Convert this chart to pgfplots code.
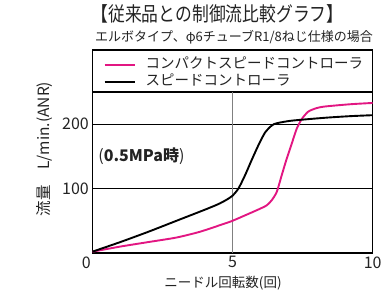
\documentclass[border=0pt]{standalone}
\usepackage{fontspec}
\setmainfont{Noto Sans CJK JP}
\usepackage{pgfplots}
\pgfplotsset{compat=1.18}
\definecolor{mag}{RGB}{226,22,130}
\definecolor{txt}{RGB}{35,35,35}
\pgfplotstableread{
x y
0 2
1 17
2 33
3 50
4 67
4.5 76
4.8 83
5.0 89
5.21 100
5.45 121
5.68 144
5.92 167
6.16 187
6.40 198
6.58 201.5
7.11 205.5
8.3 210
9.2 212.5
10 214
}\speed
\pgfplotstableread{
x y
0 2
1 10
2 17
3 24
3.84 33
4.74 46
5.0 50
5.45 58.5
5.92 67.5
6.22 74
6.40 82
6.58 95
6.75 120
6.93 146
7.11 169.5
7.29 193
7.47 208
7.70 219.5
8.0 225
8.3 227.5
9.2 231
10 233
}\compact
\begin{document}
\begin{tikzpicture}
\path[use as bounding box] (0,0) rectangle (382pt,303pt);
\begin{axis}[
  at={(92.3pt,50pt)}, anchor=south west,
  scale only axis, width=280.4pt, height=161pt,
  xmin=0, xmax=10, ymin=0, ymax=250,
  xtick={5,10}, ytick={100,200},
  extra x ticks={0},
  extra x tick style={xticklabel style={xshift=-6pt}},
  ymajorgrids, grid style={black, line width=1.1pt},
  major tick length=0pt,
  axis line style={line width=1.2pt},
  tick label style={font=\fontsize{16}{16}\selectfont, text=txt},
  /pgf/number format/assume math mode=true,
  legend style={at={(0.04,1.018)}, anchor=south west, draw=none, fill=none,
    inner sep=0pt, font=\fontsize{14.5}{15}\selectfont, row sep=3pt,
    nodes={inner sep=0pt, text height=11pt, text depth=3pt, text=txt}},
  legend cell align=left,
  legend image code/.code={\draw[#1] (0pt,0pt) -- (30pt,0pt); \path (40pt,0pt);},
]
\draw[gray, line width=1.4pt] (axis cs:5,0) -- (axis cs:5,250);
\addplot[mag, line width=1.9pt, smooth, tension=0.4] table {\compact};
\addlegendentry{コンパクトスピードコントローラ}
\addplot[black, line width=1.9pt, smooth, tension=0.4] table {\speed};
\addlegendentry{スピードコントローラ}
\node[anchor=west, font=\fontsize{16}{16}\selectfont, text=txt, inner sep=0pt] at (axis cs:0.21,151) {(\textbf{0.5MPa時})};
\end{axis}
\draw[line width=1.2pt] (92.3pt,211pt) -- (92.3pt,253pt) -- (372.7pt,253pt) -- (372.7pt,211pt);
\node[font=\fontsize{20}{20}\selectfont, text=txt, xscale=0.84] at (217.5pt,289pt) {【従来品との制御流比較グラフ】};
\node[font=\fontsize{13}{13}\selectfont, text=txt] at (234pt,266pt) {エルボタイプ、φ6チューブR1/8ねじ仕様の場合};
\node[font=\fontsize{13.5}{13.5}\selectfont, text=txt] at (223pt,20pt) {ニードル回転数(回)};
\node[rotate=90, font=\fontsize{15.5}{15.5}\selectfont, text=txt] at (45pt,154pt) {流量\quad L/min.(ANR)};
\end{tikzpicture}
\end{document}
